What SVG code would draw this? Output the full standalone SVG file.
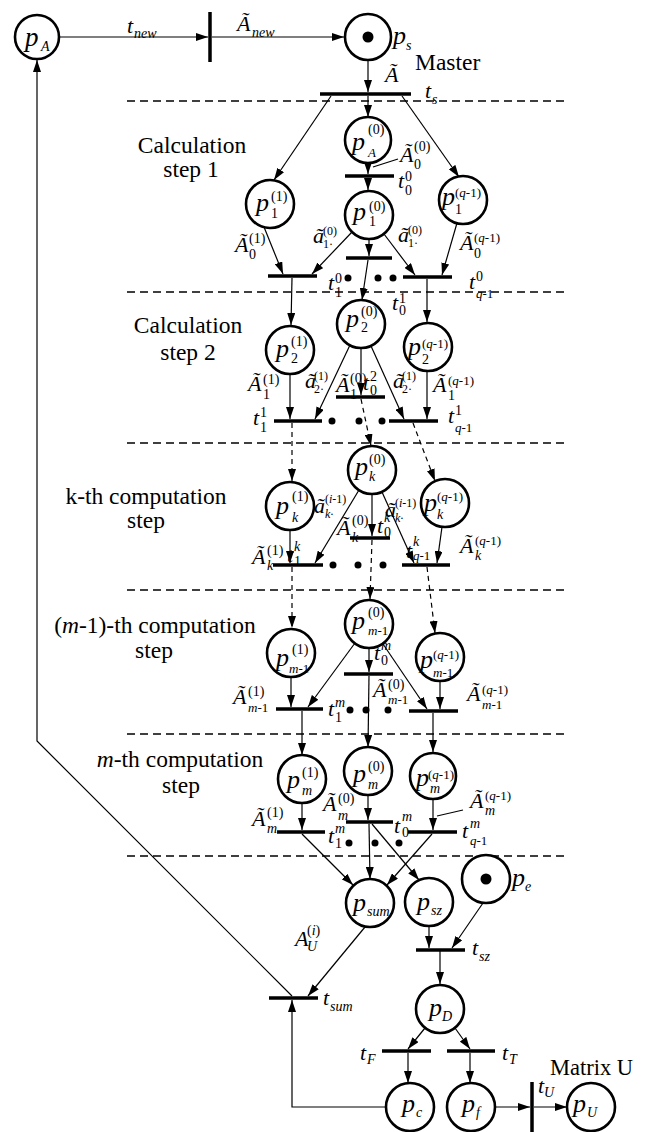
<svg xmlns="http://www.w3.org/2000/svg" width="650" height="1132" viewBox="0 0 650 1132">
<defs>
<marker id="ah" viewBox="0 0 12 8" refX="12" refY="4" markerWidth="12" markerHeight="8" markerUnits="userSpaceOnUse" orient="auto"><path d="M0,0 L12,4 L0,8 Z" fill="#000"/></marker>
<style>
text{font-family:"Liberation Serif","Times New Roman",serif;fill:#000}
.m{font-style:italic;font-size:22px}
.p{font-size:26px}
.s{font-size:14px}
.q{font-size:13px}
.t{font-size:12px}
.n{font-style:normal}
.i{font-style:italic}
.lbl{font-size:23.5px;text-anchor:middle}
.sep{stroke:#000;stroke-width:1.3;stroke-dasharray:8 5;fill:none}
.arc{stroke:#000;stroke-width:1.2;fill:none;marker-end:url(#ah)}
.ln{stroke:#000;stroke-width:1.1;fill:none}
.d{stroke-dasharray:5 4}
.pl{fill:#fff;stroke:#000;stroke-width:2.6}
.bar{stroke:#000;stroke-width:3.5}
.tok{fill:#000}
</style>
</defs>
<rect width="650" height="1132" fill="#fff"/>

<g id="separators">
<line class="sep" x1="127" y1="101" x2="567" y2="101"/>
<line class="sep" x1="127" y1="292" x2="567" y2="292"/>
<line class="sep" x1="127" y1="443" x2="567" y2="443"/>
<line class="sep" x1="127" y1="590" x2="567" y2="590"/>
<line class="sep" x1="127" y1="734" x2="567" y2="734"/>
<line class="sep" x1="127" y1="856" x2="567" y2="856"/>
</g>

<g id="step-labels">
<text class="lbl" x="415" y="70" style="text-anchor:start">Master</text>
<text class="lbl" x="192" y="153">Calculation</text>
<text class="lbl" x="191" y="177">step 1</text>
<text class="lbl" x="188" y="333">Calculation</text>
<text class="lbl" x="188" y="360">step 2</text>
<text class="lbl" x="146" y="504">k-th computation</text>
<text class="lbl" x="146" y="528">step</text>
<text class="lbl" x="155" y="633">(<tspan class="i">m</tspan>-1)-th computation</text>
<text class="lbl" x="154" y="658">step</text>
<text class="lbl" x="180" y="767"><tspan class="i">m</tspan>-th computation</text>
<text class="lbl" x="181" y="793">step</text>
</g>

<g id="connectors">
<line class="arc" x1="59" y1="37" x2="208" y2="37"/>
<line class="arc" x1="212" y1="37" x2="344" y2="37"/>
<line class="arc" x1="368" y1="60" x2="368" y2="92"/>
<line class="arc" x1="368" y1="96" x2="368" y2="117"/>
<line class="arc" x1="331" y1="96" x2="274" y2="180"/>
<line class="arc" x1="402" y1="96" x2="459" y2="177"/>
<line class="arc" x1="368" y1="163" x2="368" y2="174"/>
<line class="arc" x1="368" y1="178" x2="368" y2="190"/>
<line class="arc" x1="264" y1="227" x2="283" y2="274"/>
<line class="arc" x1="352" y1="232" x2="312" y2="274"/>
<line class="arc" x1="369" y1="239" x2="369" y2="256"/>
<line class="arc" x1="384" y1="234" x2="415" y2="275"/>
<line class="arc" x1="457" y1="223" x2="442" y2="275"/>
<line class="arc" x1="292" y1="278" x2="291" y2="325"/>
<line class="arc" x1="368" y1="260" x2="362" y2="300"/>
<line class="arc" x1="427" y1="279" x2="427" y2="322"/>
<line class="arc" x1="290" y1="374" x2="290" y2="419"/>
<line class="arc" x1="350" y1="345" x2="315" y2="419"/>
<line class="arc" x1="361" y1="348" x2="361" y2="395"/>
<line class="arc" x1="371" y1="346" x2="404" y2="419"/>
<line class="arc" x1="427" y1="371" x2="427" y2="419"/>
<line class="arc d" x1="292" y1="423" x2="292" y2="481"/>
<line class="arc d" x1="361" y1="399" x2="371" y2="446"/>
<line class="arc d" x1="413" y1="423" x2="435" y2="481"/>
<line class="arc" x1="290" y1="530" x2="290" y2="563"/>
<line class="arc" x1="359" y1="490" x2="315" y2="563"/>
<line class="arc" x1="372" y1="494" x2="372" y2="536"/>
<line class="arc" x1="382" y1="492" x2="414" y2="563"/>
<line class="arc" x1="442" y1="527" x2="437" y2="563"/>
<line class="arc d" x1="292" y1="567" x2="292" y2="628"/>
<line class="arc d" x1="372" y1="540" x2="370" y2="599"/>
<line class="arc d" x1="427" y1="567" x2="435" y2="633"/>
<line class="arc" x1="291" y1="677" x2="291" y2="707"/>
<line class="arc" x1="355" y1="643" x2="308" y2="707"/>
<line class="arc" x1="369" y1="648" x2="369" y2="672"/>
<line class="arc" x1="383" y1="644" x2="427" y2="709"/>
<line class="arc" x1="440" y1="681" x2="440" y2="709"/>
<line class="arc" x1="302" y1="711" x2="302" y2="755"/>
<line class="arc" x1="369" y1="676" x2="368" y2="747"/>
<line class="arc" x1="433" y1="713" x2="433" y2="752"/>
<line class="arc" x1="302" y1="803" x2="302" y2="830"/>
<line class="arc" x1="368" y1="795" x2="368" y2="820"/>
<line class="arc" x1="433" y1="799" x2="433" y2="830"/>
<line class="arc" x1="302" y1="834" x2="353" y2="885"/>
<line class="arc" x1="369" y1="824" x2="370" y2="879"/>
<line class="arc" x1="372" y1="824" x2="419" y2="880"/>
<line class="arc" x1="432" y1="834" x2="387" y2="885"/>
<line class="arc" x1="365" y1="927" x2="308" y2="996"/>
<polyline class="arc" points="292,996 37,741 37,60"/>
<polyline class="arc" points="386,1107 292,1107 292,1000"/>
<line class="arc" x1="429" y1="926" x2="429" y2="948"/>
<line class="arc" x1="483" y1="903" x2="452" y2="948"/>
<line class="arc" x1="440" y1="951" x2="440" y2="984"/>
<line class="arc" x1="425" y1="1028" x2="408" y2="1049"/>
<line class="arc" x1="455" y1="1028" x2="470" y2="1049"/>
<line class="arc" x1="408" y1="1053" x2="408" y2="1083"/>
<line class="arc" x1="470" y1="1053" x2="470" y2="1083"/>
<line class="arc" x1="495" y1="1107" x2="530" y2="1107"/>
<line class="arc" x1="534" y1="1107" x2="567" y2="1107"/>
<line class="ln" x1="398" y1="159" x2="373" y2="167"/>
<line class="ln" x1="463" y1="810" x2="437" y2="816"/>
</g>

<g id="ellipsis">
<circle class="tok" cx="348" cy="278" r="3.5"/><circle class="tok" cx="378" cy="278" r="3.5"/><circle class="tok" cx="393" cy="278" r="3.5"/>
<circle class="tok" cx="332" cy="421" r="3.5"/><circle class="tok" cx="359" cy="421" r="3.5"/><circle class="tok" cx="382" cy="421" r="3.5"/>
<circle class="tok" cx="333" cy="565" r="3.5"/><circle class="tok" cx="358" cy="565" r="3.5"/><circle class="tok" cx="383" cy="565" r="3.5"/>
<circle class="tok" cx="350" cy="710" r="3.5"/><circle class="tok" cx="366" cy="710" r="3.5"/><circle class="tok" cx="388" cy="710" r="3.5"/>
<circle class="tok" cx="349" cy="843" r="3.5"/><circle class="tok" cx="375" cy="843" r="3.5"/><circle class="tok" cx="399" cy="843" r="3.5"/>
</g>

<!-- places -->
<g id="pA"><circle class="pl" cx="37" cy="37" r="22"/><text class="m"><tspan class="p" x="25" y="46" style="font-size:27px">p</tspan><tspan class="s" x="41" y="51">A</tspan></text></g>
<g id="ps"><circle class="pl" cx="368" cy="37" r="23"/><circle class="tok" cx="368" cy="37" r="5.5"/><text class="m"><tspan class="p" x="393" y="44">p</tspan><tspan class="s" x="406" y="50">s</tspan></text></g>
<g id="pA0"><circle class="pl" cx="368" cy="140" r="23"/><text class="m"><tspan class="p" x="352" y="150">p</tspan><tspan class="s n" x="368" y="134">(0)</tspan><tspan class="q" x="368" y="157">A</tspan></text></g>
<g id="p1_1"><circle class="pl" cx="270" cy="204" r="24"/><text class="m"><tspan class="p" x="256" y="211">p</tspan><tspan class="s n" x="271" y="201">(1)</tspan><tspan class="s n" x="271" y="218">1</tspan></text></g>
<g id="p1_0"><circle class="pl" cx="369" cy="215" r="24"/><text class="m"><tspan class="p" x="353" y="220">p</tspan><tspan class="s n" x="369" y="211">(0)</tspan><tspan class="s n" x="369" y="226">1</tspan></text></g>
<g id="p1_q"><circle class="pl" cx="463" cy="200" r="24"/><text class="m"><tspan class="p" x="442" y="205">p</tspan><tspan class="q n" x="455" y="197">(<tspan class="i">q</tspan>-1)</tspan><tspan class="s n" x="455" y="214">1</tspan></text></g>
<g id="p2_1"><circle class="pl" cx="290" cy="350" r="24"/><text class="m"><tspan class="p" x="276" y="357">p</tspan><tspan class="s n" x="291" y="346">(1)</tspan><tspan class="s n" x="291" y="363">2</tspan></text></g>
<g id="p2_0"><circle class="pl" cx="361" cy="324" r="24"/><text class="m"><tspan class="p" x="346" y="327">p</tspan><tspan class="s n" x="361" y="316">(0)</tspan><tspan class="s n" x="361" y="332">2</tspan></text></g>
<g id="p2_q"><circle class="pl" cx="428" cy="347" r="24"/><text class="m"><tspan class="p" x="408" y="355">p</tspan><tspan class="q n" x="422" y="348">(<tspan class="i">q</tspan>-1)</tspan><tspan class="s n" x="422" y="364">2</tspan></text></g>
<g id="pk_1"><circle class="pl" cx="290" cy="506" r="24"/><text class="m"><tspan class="p" x="276" y="514">p</tspan><tspan class="s n" x="292" y="501">(1)</tspan><tspan class="s" x="292" y="522">k</tspan></text></g>
<g id="pk_0"><circle class="pl" cx="372" cy="470" r="24"/><text class="m"><tspan class="p" x="355" y="475">p</tspan><tspan class="s n" x="369" y="464">(0)</tspan><tspan class="s" x="369" y="481">k</tspan></text></g>
<g id="pk_q"><circle class="pl" cx="445" cy="503" r="24"/><text class="m"><tspan class="p" x="424" y="511">p</tspan><tspan class="q n" x="437" y="501">(<tspan class="i">q</tspan>-1)</tspan><tspan class="s" x="437" y="519">k</tspan></text></g>
<g id="pm1_1"><circle class="pl" cx="291" cy="653" r="24"/><text class="m"><tspan class="p" x="276" y="666">p</tspan><tspan class="s n" x="292" y="654">(1)</tspan><tspan class="q" x="289" y="673">m<tspan class="n">-1</tspan></tspan></text></g>
<g id="pm1_0"><circle class="pl" cx="369" cy="624" r="24"/><text class="m"><tspan class="p" x="352" y="629">p</tspan><tspan class="s n" x="368" y="617">(0)</tspan><tspan class="q" x="368" y="635">m<tspan class="n">-1</tspan></tspan></text></g>
<g id="pm1_q"><circle class="pl" cx="440" cy="657" r="24"/><text class="m"><tspan class="p" x="420" y="668">p</tspan><tspan class="q n" x="433" y="659">(<tspan class="i">q</tspan>-1)</tspan><tspan class="q" x="433" y="677">m<tspan class="n">-1</tspan></tspan></text></g>
<g id="pm_1"><circle class="pl" cx="302" cy="779" r="24"/><text class="m"><tspan class="p" x="287" y="788">p</tspan><tspan class="s n" x="302" y="777">(1)</tspan><tspan class="s" x="302" y="795">m</tspan></text></g>
<g id="pm_0"><circle class="pl" cx="368" cy="771" r="24"/><text class="m"><tspan class="p" x="353" y="782">p</tspan><tspan class="s n" x="368" y="771">(0)</tspan><tspan class="s" x="368" y="789">m</tspan></text></g>
<g id="pm_q"><circle class="pl" cx="433" cy="776" r="23"/><text class="m"><tspan class="p" x="416" y="786">p</tspan><tspan class="q n" x="428" y="779">(<tspan class="i">q</tspan>-1)</tspan><tspan class="s" x="430" y="793">m</tspan></text></g>
<g id="psum"><circle class="pl" cx="370" cy="903" r="24"/><text class="m"><tspan class="p" x="353" y="911">p</tspan><tspan class="s" x="367" y="916">sum</tspan></text></g>
<g id="psz"><circle class="pl" cx="429" cy="902" r="24"/><text class="m"><tspan class="p" x="417" y="910">p</tspan><tspan class="s" x="431" y="915">sz</tspan></text></g>
<g id="pe"><circle class="pl" cx="486" cy="879" r="24"/><circle class="tok" cx="486" cy="879" r="5.5"/><text class="m"><tspan class="p" x="512" y="886">p</tspan><tspan class="s" x="525" y="891">e</tspan></text></g>
<g id="pD"><circle class="pl" cx="440" cy="1009" r="24"/><text class="m"><tspan class="p" x="429" y="1016">p</tspan><tspan class="s" x="442" y="1021">D</tspan></text></g>
<g id="pc"><circle class="pl" cx="410" cy="1107" r="24"/><text class="m"><tspan class="p" x="402" y="1112">p</tspan><tspan class="s" x="416" y="1117">c</tspan></text></g>
<g id="pf"><circle class="pl" cx="471" cy="1107" r="24"/><text class="m"><tspan class="p" x="462" y="1112">p</tspan><tspan class="s" x="476" y="1117">f</tspan></text></g>
<g id="pU"><circle class="pl" cx="591" cy="1107" r="24"/><text class="m"><tspan class="p" x="573" y="1112">p</tspan><tspan class="s" x="587" y="1117">U</tspan></text></g>

<!-- transitions -->
<g id="tnew"><line class="bar" x1="210" y1="12" x2="210" y2="62"/><text class="m"><tspan x="127" y="33">t</tspan><tspan class="s" x="134" y="38">new</tspan></text></g>
<g id="ts"><line class="bar" x1="320" y1="94" x2="411" y2="94"/><text class="m"><tspan x="425" y="98">t</tspan><tspan class="s" x="432" y="104">s</tspan></text></g>
<g id="t00"><line class="bar" x1="345" y1="176" x2="394" y2="176"/><text class="m"><tspan x="398" y="188">t</tspan><tspan class="s n" x="405" y="181">0</tspan><tspan class="s n" x="405" y="195">0</tspan></text></g>
<g id="t1_0"><line class="bar" x1="268" y1="276" x2="317" y2="276"/><text class="m"><tspan x="328" y="290">t</tspan><tspan class="s n" x="335" y="283">0</tspan><tspan class="s n" x="335" y="297">1</tspan></text></g>
<g id="t0_1"><line class="bar" x1="346" y1="258" x2="392" y2="258"/><text class="m"><tspan x="392" y="310">t</tspan><tspan class="s n" x="399" y="303">1</tspan><tspan class="s n" x="399" y="315">0</tspan></text></g>
<g id="tq_0"><line class="bar" x1="403" y1="277" x2="452" y2="277"/><text class="m"><tspan x="469" y="289">t</tspan><tspan class="s n" x="476" y="281">0</tspan><tspan class="q" x="476" y="298">q<tspan class="n">-1</tspan></tspan></text></g>
<g id="t1_1"><line class="bar" x1="274" y1="421" x2="322" y2="421"/><text class="m"><tspan x="253" y="425">t</tspan><tspan class="s n" x="260" y="417">1</tspan><tspan class="s n" x="260" y="432">1</tspan></text></g>
<g id="t0_2"><line class="bar" x1="336" y1="397" x2="385" y2="397"/><text class="m"><tspan x="363" y="390">t</tspan><tspan class="s n" x="370" y="381">2</tspan><tspan class="s n" x="370" y="395">0</tspan></text></g>
<g id="tq_1"><line class="bar" x1="389" y1="421" x2="438" y2="421"/><text class="m"><tspan x="448" y="423">t</tspan><tspan class="s n" x="455" y="415">1</tspan><tspan class="q" x="455" y="432">q<tspan class="n">-1</tspan></tspan></text></g>
<g id="t1_k"><line class="bar" x1="273" y1="565" x2="323" y2="565"/><text class="m"><tspan x="287" y="562">t</tspan><tspan class="s" x="294" y="551">k</tspan><tspan class="s n" x="294" y="566">1</tspan></text></g>
<g id="t0_k"><line class="bar" x1="350" y1="538" x2="390" y2="538"/><text class="m"><tspan x="377" y="533">t</tspan><tspan class="s" x="384" y="522">k</tspan><tspan class="s n" x="384" y="537">0</tspan></text></g>
<g id="tq_k"><line class="bar" x1="402" y1="565" x2="450" y2="565"/><text class="m"><tspan x="406" y="558">t</tspan><tspan class="s" x="413" y="546">k</tspan><tspan class="q" x="413" y="560">q<tspan class="n">-1</tspan></tspan></text></g>
<g id="t1_m1"><line class="bar" x1="276" y1="709" x2="323" y2="709"/><text class="m"><tspan x="328" y="716">t</tspan><tspan class="s" x="335" y="707">m</tspan><tspan class="s n" x="335" y="722">1</tspan></text></g>
<g id="t0_m1"><line class="bar" x1="344" y1="674" x2="393" y2="674"/><text class="m"><tspan x="374" y="660">t</tspan><tspan class="s" x="381" y="650">m</tspan><tspan class="s n" x="381" y="665">0</tspan></text></g>
<g id="tq_m1"><line class="bar" x1="409" y1="711" x2="458" y2="711"/></g>
<g id="t1_m"><line class="bar" x1="277" y1="832" x2="325" y2="832"/><text class="m"><tspan x="328" y="843">t</tspan><tspan class="s" x="335" y="833">m</tspan><tspan class="s n" x="335" y="848">1</tspan></text></g>
<g id="t0_m"><line class="bar" x1="346" y1="822" x2="393" y2="822"/><text class="m"><tspan x="394" y="833">t</tspan><tspan class="s" x="402" y="821">m</tspan><tspan class="s n" x="402" y="837">0</tspan></text></g>
<g id="tq_m"><line class="bar" x1="408" y1="832" x2="457" y2="832"/><text class="m"><tspan x="462" y="838">t</tspan><tspan class="s" x="470" y="828">m</tspan><tspan class="q" x="470" y="845">q<tspan class="n">-1</tspan></tspan></text></g>
<g id="tsz"><line class="bar" x1="416" y1="950" x2="465" y2="950"/><text class="m"><tspan x="472" y="955">t</tspan><tspan class="s" x="479" y="961">sz</tspan></text></g>
<g id="tsum"><line class="bar" x1="269" y1="998" x2="318" y2="998"/><text class="m"><tspan x="323" y="1005">t</tspan><tspan class="s" x="330" y="1011">sum</tspan></text></g>
<g id="tF"><line class="bar" x1="382" y1="1051" x2="431" y2="1051"/><text class="m"><tspan x="360" y="1060">t</tspan><tspan class="s" x="367" y="1064">F</tspan></text></g>
<g id="tT"><line class="bar" x1="447" y1="1051" x2="495" y2="1051"/><text class="m"><tspan x="502" y="1060">t</tspan><tspan class="s" x="509" y="1064">T</tspan></text></g>
<g id="tU"><line class="bar" x1="532" y1="1082" x2="532" y2="1132"/><text class="m"><tspan x="538" y="1093">t</tspan><tspan class="s" x="544" y="1097">U</tspan></text><text class="lbl" x="550" y="1075" style="text-anchor:start;font-size:22.5px">Matrix U</text></g>

<g id="arc-labels">
<text class="m"><tspan x="237" y="31">Ã</tspan><tspan class="s" x="252" y="37">new</tspan></text>
<text class="m" x="385" y="82">Ã</text>
<text class="m"><tspan x="400" y="162">Ã</tspan><tspan class="s n" x="414" y="151">(0)</tspan><tspan class="s n" x="414" y="169">0</tspan></text>
<text class="m"><tspan x="235" y="252">Ã</tspan><tspan class="s n" x="249" y="243">(1)</tspan><tspan class="s n" x="249" y="259">0</tspan></text>
<text class="m"><tspan x="313" y="243">ã</tspan><tspan class="t n" x="323" y="235">(0)</tspan><tspan class="t n" x="323" y="248">1·</tspan></text>
<text class="m"><tspan x="398" y="242">ã</tspan><tspan class="t n" x="408" y="234">(0)</tspan><tspan class="t n" x="408" y="247">1·</tspan></text>
<text class="m"><tspan x="460" y="250">Ã</tspan><tspan class="q n" x="474" y="242">(<tspan class="i">q</tspan>-1)</tspan><tspan class="s n" x="474" y="258">0</tspan></text>
<text class="m"><tspan x="248" y="391">Ã</tspan><tspan class="s n" x="263" y="384">(1)</tspan><tspan class="s n" x="263" y="399">1</tspan></text>
<text class="m"><tspan x="305" y="388">ã</tspan><tspan class="t n" x="314" y="380">(1)</tspan><tspan class="t n" x="314" y="393">2·</tspan></text>
<text class="m"><tspan x="336" y="392">Ã</tspan><tspan class="s n" x="350" y="383">(0)</tspan><tspan class="s n" x="350" y="399">1</tspan></text>
<text class="m"><tspan x="393" y="388">ã</tspan><tspan class="t n" x="402" y="380">(1)</tspan><tspan class="t n" x="402" y="393">2·</tspan></text>
<text class="m"><tspan x="433" y="392">Ã</tspan><tspan class="q n" x="448" y="385">(<tspan class="i">q</tspan>-1)</tspan><tspan class="s n" x="448" y="400">1</tspan></text>
<text class="m"><tspan x="314" y="513">ã</tspan><tspan class="t n" x="325" y="503">(<tspan class="i">i</tspan>-1)</tspan><tspan class="t" x="325" y="518">k·</tspan></text>
<text class="m"><tspan x="385" y="517">ã</tspan><tspan class="t n" x="395" y="507">(<tspan class="i">i</tspan>-1)</tspan><tspan class="t" x="395" y="522">k·</tspan></text>
<text class="m"><tspan x="337" y="535">Ã</tspan><tspan class="s n" x="352" y="525">(0)</tspan><tspan class="s" x="352" y="542">k</tspan></text>
<text class="m"><tspan x="252" y="564">Ã</tspan><tspan class="s n" x="267" y="555">(1)</tspan><tspan class="s" x="267" y="570">k</tspan></text>
<text class="m"><tspan x="460" y="553">Ã</tspan><tspan class="q n" x="475" y="545">(<tspan class="i">q</tspan>-1)</tspan><tspan class="s" x="475" y="560">k</tspan></text>
<text class="m"><tspan x="233" y="704">Ã</tspan><tspan class="s n" x="248" y="696">(1)</tspan><tspan class="q" x="248" y="712">m<tspan class="n">-1</tspan></tspan></text>
<text class="m"><tspan x="373" y="697">Ã</tspan><tspan class="s n" x="388" y="689">(0)</tspan><tspan class="q" x="388" y="704">m<tspan class="n">-1</tspan></tspan></text>
<text class="m"><tspan x="467" y="701">Ã</tspan><tspan class="q n" x="482" y="694">(<tspan class="i">q</tspan>-1)</tspan><tspan class="q" x="482" y="709">m<tspan class="n">-1</tspan></tspan></text>
<text class="m"><tspan x="252" y="826">Ã</tspan><tspan class="s n" x="267" y="817">(1)</tspan><tspan class="s" x="267" y="833">m</tspan></text>
<text class="m"><tspan x="323" y="811">Ã</tspan><tspan class="s n" x="338" y="803">(0)</tspan><tspan class="s" x="338" y="820">m</tspan></text>
<text class="m"><tspan x="470" y="808">Ã</tspan><tspan class="q n" x="485" y="800">(<tspan class="i">q</tspan>-1)</tspan><tspan class="s" x="485" y="815">m</tspan></text>
<text class="m"><tspan x="295" y="946">A</tspan><tspan class="s n" x="307" y="935">(<tspan class="i">i</tspan>)</tspan><tspan class="s" x="307" y="951">U</tspan></text>
</g>
</svg>
